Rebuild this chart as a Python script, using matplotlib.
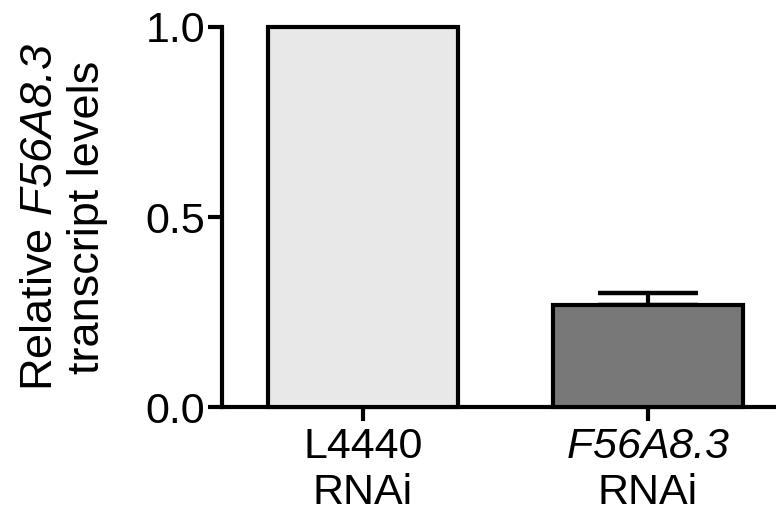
import matplotlib
matplotlib.use("Agg")
import matplotlib.pyplot as plt

plt.rcParams['font.family'] = ['Liberation Sans', 'DejaVu Sans']
plt.rcParams['mathtext.fontset'] = 'custom'
plt.rcParams['mathtext.rm'] = 'Liberation Sans:italic'
plt.rcParams['mathtext.it'] = 'Liberation Sans:italic'
plt.rcParams['mathtext.sf'] = 'Liberation Sans:italic'
plt.rcParams['mathtext.default'] = 'rm'

categories = ["L4440\nRNAi", "$\\mathrm{F56A8.3}$\nRNAi"]
values = [1.0, 0.268]
err_upper = [0.0, 0.032]
colors = ["#e8e8e8", "#787878"]
yticks = [0.0, 0.5, 1.0]
ytick_labels = ["0.0", "0.5", "1.0"]

fig = plt.figure(figsize=(7.76, 5.18), dpi=100)
ax = fig.add_axes([0.286, 0.214, 0.714, 0.734])

x = list(range(len(categories)))
ax.bar(x, values, width=0.667, color=colors, edgecolor="black",
       linewidth=3, clip_on=False, zorder=3)
ax.errorbar(x[1:], values[1:], yerr=[[0.0], err_upper[1:]], fmt="none",
            ecolor="black", elinewidth=3, capsize=36, capthick=3.2,
            zorder=2, clip_on=False)

ax.set_xlim(-0.495, 1.449)
ax.set_ylim(0, 1.0)
ax.set_yticks(yticks)
ax.set_yticklabels(ytick_labels)
ax.set_xticks(x)
ax.set_xticklabels(categories)

for s in ["top", "right"]:
    ax.spines[s].set_visible(False)
for s in ["left", "bottom"]:
    ax.spines[s].set_linewidth(3)

ax.tick_params(axis="both", which="major", labelsize=31, width=3,
               length=10, direction="out")
ax.tick_params(axis="y", pad=2)
ax.tick_params(axis="x", pad=4)

ax.set_ylabel("Relative $\\mathrm{F56A8.3}$\ntranscript levels",
              fontsize=32.5, labelpad=27)

fig.savefig("out.png", dpi=100)
